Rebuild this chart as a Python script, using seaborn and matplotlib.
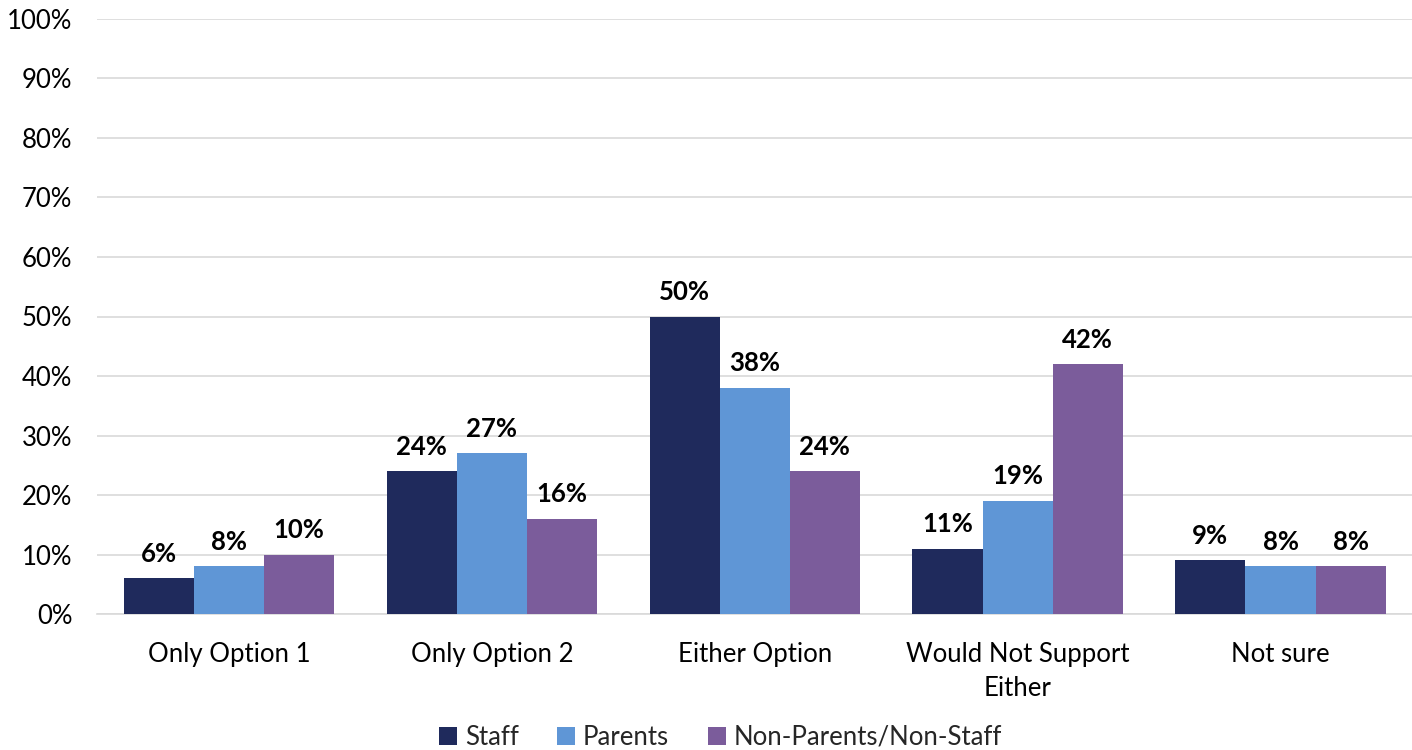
import matplotlib
matplotlib.use("Agg")
import matplotlib.pyplot as plt
import pandas as pd
import seaborn as sns
from matplotlib.ticker import PercentFormatter

categories = ["Only Option 1", "Only Option 2", "Either Option",
              "Would Not Support\nEither", "Not sure"]
groups = ["Staff", "Parents", "Non-Parents/Non-Staff"]
staff = [6, 24, 50, 11, 9]
parents = [8, 27, 38, 19, 8]
non_parents = [10, 16, 24, 42, 8]
colors = ["#1F2A5C", "#5F96D6", "#7B5C9B"]

rows = []
for g, vals in zip(groups, [staff, parents, non_parents]):
    for c, v in zip(categories, vals):
        rows.append({"category": c, "group": g, "value": v})
df = pd.DataFrame(rows)

sns.set_style("white")
plt.rcParams["font.family"] = ["Lato", "DejaVu Sans"]

fig = plt.figure(figsize=(14.12, 7.5), dpi=100)
ax = fig.add_axes([0.069, 0.1813, 0.931, 0.7934])

sns.barplot(
    data=df, x="category", y="value", hue="group",
    order=categories, hue_order=groups, palette=colors,
    width=0.8, saturation=1, ax=ax, errorbar=None, zorder=3, linewidth=0,
)

for container in ax.containers:
    ax.bar_label(container, labels=[f"{int(v)}%" for v in container.datavalues],
                 padding=9, fontsize=18.5, fontweight="bold", color="black")

ax.set_ylim(0, 100)
ax.set_yticks(range(0, 101, 10))
ax.yaxis.set_major_formatter(PercentFormatter(decimals=0))
ax.grid(axis="y", color="#D9D9D9", linewidth=1.2, zorder=0)
ax.set_axisbelow(True)
for s in ["top", "right", "left"]:
    ax.spines[s].set_visible(False)
ax.spines["bottom"].set_color("#D9D9D9")
ax.spines["bottom"].set_linewidth(1.2)
ax.tick_params(axis="both", length=0, labelsize=18.5, colors="black")
ax.tick_params(axis="x", pad=20)
ax.tick_params(axis="y", pad=18)
for lbl in ax.get_xticklabels():
    lbl.set_linespacing(1.45)
ax.set_xlabel("")
ax.set_ylabel("")
ax.set_xlim(-0.5, 4.5)

ax.legend(title=None, loc="center", bbox_to_anchor=(0.474, -0.207),
          ncol=3, frameon=False, fontsize=18.5, handlelength=0.7, handleheight=0.7,
          handletextpad=0.3, columnspacing=1.5)

fig.savefig("out.png", dpi=100)
